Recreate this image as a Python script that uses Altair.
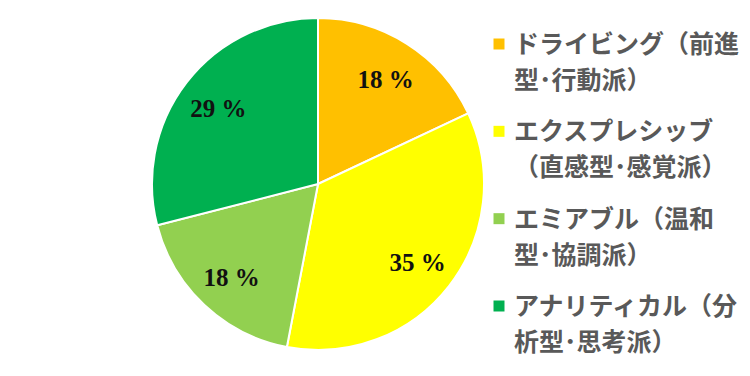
import altair as alt
import pandas as pd

categories = [
    "ドライビング（前進\n型･行動派）",
    "エクスプレシッブ\n（直感型･感覚派）",
    "エミアブル（温和\n型･協調派）",
    "アナリティカル（分\n析型･思考派）",
]
values = [18, 35, 18, 29]
labels = ["18 %", "35 %", "18 %", "29 %"]
colors = ["#FFC000", "#FFFF00", "#92D050", "#00B050"]

df = pd.DataFrame({
    "category": categories,
    "value": values,
    "label": labels,
    "order": list(range(len(categories))),
})

color_scale = alt.Scale(domain=categories, range=colors)

pie = alt.Chart(df).mark_arc(outerRadius=166, stroke="white", strokeWidth=2).encode(
    theta=alt.Theta("value:Q", stack=True),
    color=alt.Color("category:N", scale=color_scale, legend=None),
    order=alt.Order("order:Q"),
    x=alt.value(318),
    y=alt.value(184),
)

pie_text = alt.Chart(df).mark_text(
    radius=126, font="Liberation Serif", fontSize=25, fontWeight="bold", color="#111111",
    align="center", baseline="middle",
).encode(
    theta=alt.Theta("value:Q", stack=True),
    detail="category:N",
    order=alt.Order("order:Q"),
    text="label:N",
    x=alt.value(318),
    y=alt.value(186),
)

ypos = alt.Y("order:O", scale=alt.Scale(type="point", range=[44, 306], padding=0), axis=None)

leg_sym = alt.Chart(df).mark_square(size=121, opacity=1).encode(
    x=alt.value(499),
    y=ypos,
    color=alt.Color("category:N", scale=color_scale, legend=None),
)

leg_text = alt.Chart(df).mark_text(
    align="left", baseline="alphabetic", dy=9, lineBreak="\n", lineHeight=36,
    font="Noto Sans CJK JP", fontSize=25, fontWeight="bold", color="#595959",
).encode(
    x=alt.value(514),
    y=ypos,
    text="category:N",
)

chart = alt.layer(pie, pie_text, leg_sym, leg_text).properties(
    width=750, height=376, autosize=alt.AutoSizeParams(type="none"), padding=0,
).configure_view(stroke=None)

chart.save("out.html", embed_options={"renderer": "svg", "actions": False})
